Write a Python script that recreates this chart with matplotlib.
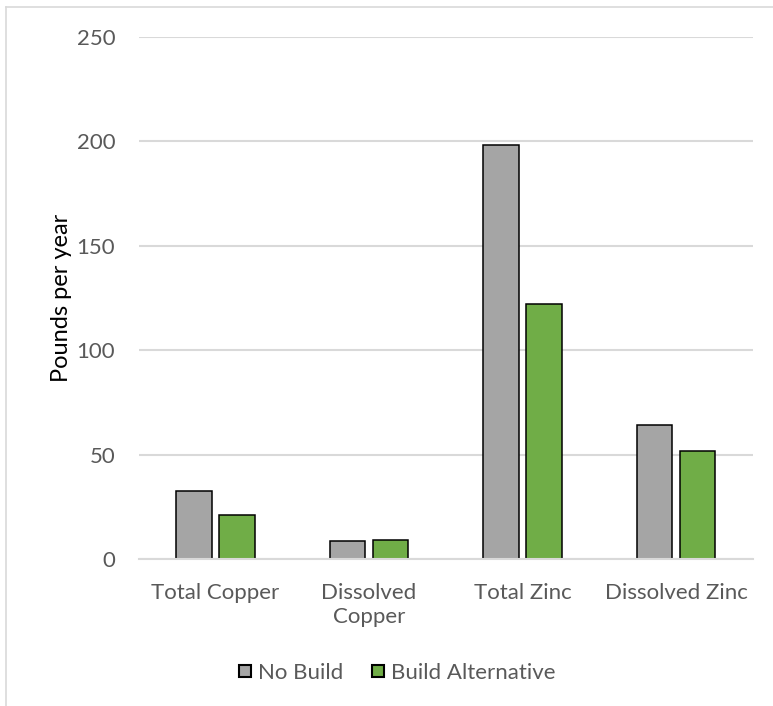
import numpy as np
import matplotlib.pyplot as plt
from matplotlib.lines import Line2D

# data
categories = ['Total Copper', 'Dissolved\nCopper', 'Total Zinc', 'Dissolved Zinc']
no_build = [32.6, 8.6, 198.3, 64.0]
build_alt = [21.1, 9.0, 122.0, 51.9]
y_ticks = [0, 50, 100, 150, 200, 250]

plt.rcParams['font.family'] = ['Lato', 'DejaVu Sans']
text_color = '#595959'
grid_color = '#D9D9D9'
gray = '#A5A5A5'
green = '#70AD47'

W, H = 773, 706
fig = plt.figure(figsize=(W / 100, H / 100), dpi=100)
ax = fig.add_axes([138.75 / W, 1 - 559 / H, 614 / W, 522 / H])

x = np.arange(len(categories))
bw = 0.231
off = 0.141
ax.bar(x - off, no_build, bw, color=gray, edgecolor='black', linewidth=1.1, zorder=3)
ax.bar(x + off, build_alt, bw, color=green, edgecolor='black', linewidth=1.1, zorder=3)

ax.set_xlim(-0.5, 3.5)
ax.set_ylim(0, 250)
ax.set_yticks(y_ticks)
ax.set_xticks(x)
ax.set_xticklabels(categories, linespacing=1.3)
ax.tick_params(axis='y', length=0, pad=17, labelsize=16, labelcolor=text_color)
ax.tick_params(axis='x', length=0, pad=17, labelsize=16, labelcolor=text_color)
ax.grid(axis='y', color=grid_color, linewidth=1.5, zorder=0)
for s in ['top', 'right', 'left']:
    ax.spines[s].set_visible(False)
ax.spines['bottom'].set_color(grid_color)
ax.spines['bottom'].set_linewidth(1.5)
ax.spines['bottom'].set_zorder(4)

ax.set_ylabel('Pounds per year', fontsize=17, color='black', labelpad=3)

# square legend keys like the spreadsheet legend
handles = [Line2D([], [], linestyle='none', marker='s', markersize=8.5,
                  markerfacecolor=c, markeredgecolor='black', markeredgewidth=1.5)
           for c in (gray, green)]
fig.legend(handles, ['No Build', 'Build Alternative'], loc='center',
           bbox_to_anchor=(397 / W, 1 - 673 / H), ncol=2, frameon=False,
           fontsize=16, labelcolor=text_color, handlelength=0.55,
           handletextpad=0.3, columnspacing=1.3)

# chart area border
fig.add_artist(Line2D([6 / W, 6 / W], [0, 1 - 7 / H], color=grid_color, linewidth=1.2))
fig.add_artist(Line2D([6 / W, 1], [1 - 7 / H, 1 - 7 / H], color=grid_color, linewidth=1.2))

fig.savefig('out.png', dpi=100)
